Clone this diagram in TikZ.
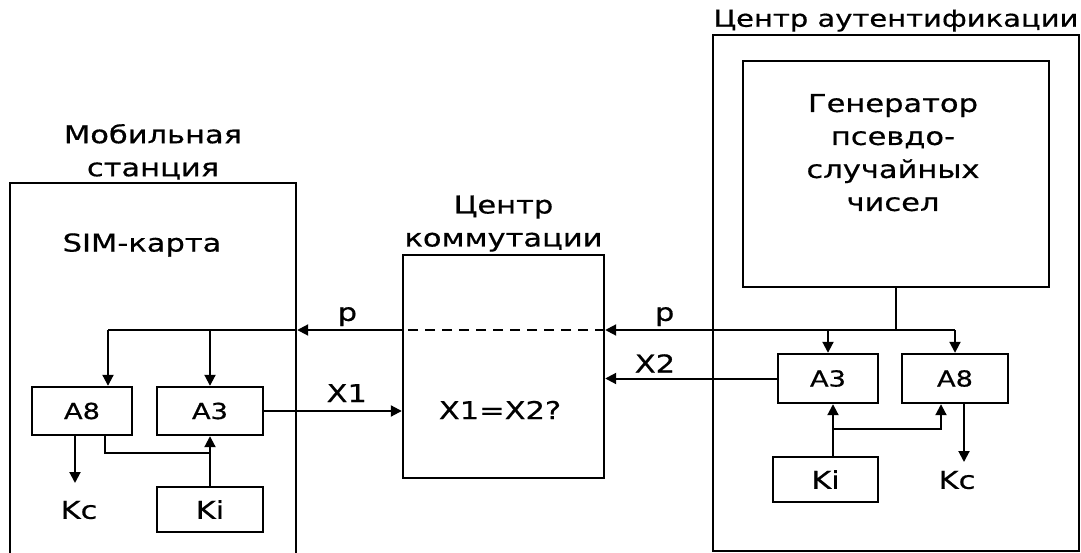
\documentclass[tikz,border=0pt]{standalone}
\usepackage{fontspec}
\setmainfont{DejaVu Sans}[FakeStretch=1.24,FakeBold=0.6]
\usetikzlibrary{arrows.meta,positioning}

\begin{document}
\begin{tikzpicture}[x=1pt,y=-1pt,
  blk/.style={draw,line width=2.4pt,inner sep=0pt},
  lbl/.style={inner sep=0pt,font=\fontsize{24.6}{33}\selectfont},
  sml/.style={inner sep=0pt,font=\fontsize{22}{26}\selectfont},
  ln/.style={line width=2pt},
  arr/.style={ln,-{Triangle[length=11pt,width=11pt]}}]
\useasboundingbox (0,0) rectangle (1081,553);
\clip (0,0) rectangle (1081,553);

% mobile station
\node[blk,minimum width=286pt,minimum height=387pt] (ms) at (153,376.5) {};
\node[lbl,align=center,above=2pt of ms] (msTitle) {Мобильная\\станция};
\node[lbl] (sim) at (142,245) {SIM-карта};
\node[blk,sml,minimum width=100pt,minimum height=48pt] (msA8) at (82,411) {A8};
\node[blk,sml,minimum width=106pt,minimum height=48pt] (msA3) at (210,411) {A3};
\node[blk,lbl,minimum width=106pt,minimum height=45pt] (msKi) at (210,509.5) {Ki};
\node[lbl] (msKc) at (79,510) {Kc};

% switching centre
\node[blk,minimum width=201pt,minimum height=223pt] (sw) at (503.5,366.5) {};
\node[lbl,align=center,above=2pt of sw] (swTitle) {Центр\\коммутации};
\node[lbl] (cmp) at (500,410) {X1=X2?};

% authentication centre
\node[blk,minimum width=366pt,minimum height=516pt] (ac) at (896,293) {};
\node[lbl,font=\fontsize{23.4}{33}\selectfont,above=2pt of ac] (acTitle) {Центр аутентификации};
\node[blk,minimum width=306pt,minimum height=226pt] (gen) at (896,174) {};
\node[lbl,align=center,below=34pt of gen.north,xshift=-3pt] (genTxt) {Генератор\\псевдо-\\случайных\\чисел};
\node[blk,sml,minimum width=100pt,minimum height=49pt] (acA3) at (828,378.5) {A3};
\node[blk,sml,minimum width=106pt,minimum height=49pt] (acA8) at (955,378.5) {A8};
\node[blk,lbl,minimum width=105pt,minimum height=45pt] (acKi) at (825.5,479.5) {Ki};
\node[lbl] (acKc) at (957,480) {Kc};

\coordinate (pR) at (955,330);
\coordinate (pL) at (108,330);
\coordinate (a8L) at (105,453);
\coordinate (kcL) at (75,483);
\coordinate (kiR) at (833,429);
\coordinate (a8R) at (941,429);
\coordinate (kcR) at (964,462);

% p
\draw[ln] (gen.south) -- (gen.south |- pR);
\draw[arr] (pR) -- (sw.east |- pR) node[lbl,pos=.83,above=3pt] (pRLbl) {p};
\draw[ln,dash pattern=on 10pt off 7pt] (sw.east |- pR) -- (sw.west |- pR);
\draw[arr] (sw.west |- pR) -- (ms.east |- pR) node[lbl,pos=.52,above=3pt] (pLLbl) {p};
\draw[ln] (ms.east |- pR) -- (pL);
\draw[arr] (pL) -- (pL |- msA8.north);
\draw[arr] (msA3.north |- pL) -- (msA3.north);
\draw[arr] (acA3.north |- pR) -- (acA3.north);
\draw[arr] (pR) -- (acA8.north);

% X1, X2
\draw[arr] (msA3.east) -- (sw.west |- msA3.east) node[lbl,pos=.6,above=8pt] (x1Lbl) {X1};
\draw[arr] (acA3.west) -- (sw.east |- acA3.west) node[lbl,pos=.71,above=5pt] (x2Lbl) {X2};

% Ki, Kc
\draw[arr] (msKi.north) -- (msA3.south);
\draw[ln] (msA8.south -| a8L) -- (a8L) -- (a8L -| msKi.north);
\draw[arr] (msA8.south -| kcL) -- (kcL);
\draw[arr] (acKi.north -| kiR) -- (acA3.south -| kiR);
\draw[arr] (kiR) -- (a8R) -- (acA8.south -| a8R);
\draw[arr] (acA8.south -| kcR) -- (kcR);

\end{tikzpicture}
\end{document}
